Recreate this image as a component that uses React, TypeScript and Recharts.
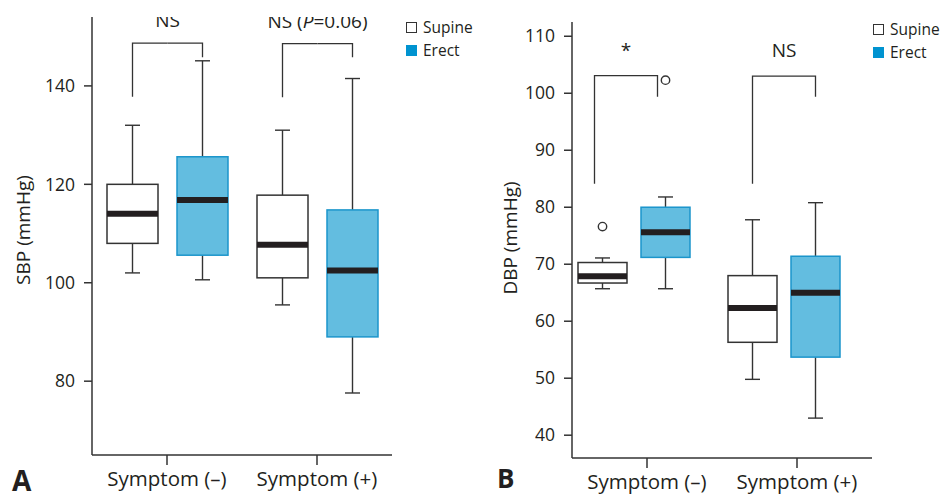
import React from 'react';
import { ComposedChart, Bar, XAxis, YAxis, Legend } from 'recharts';

// categories
const groups = ['Symptom (–)', 'Symptom (+)'];
const legendNames = ['Supine', 'Erect'];

// panel A: systolic BP (mmHg) – box stats per group
const supineSbpMin = [102, 95.5];
const supineSbpQ1 = [108, 101];
const supineSbpMed = [114, 107.7];
const supineSbpQ3 = [120, 117.8];
const supineSbpMax = [132, 131];
const supineSbpOut = [null, null];

const erectSbpMin = [100.6, 77.6];
const erectSbpQ1 = [105.6, 89];
const erectSbpMed = [116.8, 102.5];
const erectSbpQ3 = [125.6, 114.8];
const erectSbpMax = [145.1, 141.5];
const erectSbpOut = [null, null];

// significance brackets (A)
const sbpBracketTop = [148.7, 148.6];
const sbpBracketSupineEnd = [137.8, 137.7];
const sbpBracketErectEnd = [145.8, 145.8];
const sbpSig = ['NS', 'NS (P=0.06)'];
const sbpTicks = [80, 100, 120, 140];

// panel B: diastolic BP (mmHg)
const supineDbpMin = [65.7, 49.8];
const supineDbpQ1 = [66.7, 56.3];
const supineDbpMed = [67.9, 62.3];
const supineDbpQ3 = [70.3, 68];
const supineDbpMax = [71.1, 77.8];
const supineDbpOut = [76.6, null];

const erectDbpMin = [65.7, 43];
const erectDbpQ1 = [71.2, 53.7];
const erectDbpMed = [75.6, 65];
const erectDbpQ3 = [80, 71.4];
const erectDbpMax = [81.8, 80.8];
const erectDbpOut = [102.3, null];

const dbpBracketTop = [103.1, 103];
const dbpBracketSupineEnd = [84.1, 84.1];
const dbpBracketErectEnd = [99.4, 99.4];
const dbpSig = ['*', 'NS'];
const dbpTicks = [40, 50, 60, 70, 80, 90, 100, 110];

const INK = '#231f20';
const LINE = '#333333';
const ERECT_FILL = '#63bde0';
const ERECT_EDGE = '#1b95cb';
const LEGEND_BLUE = '#0093d0';

const buildRows = (s: number[][], e: number[][], br: number[][], sig: string[]) =>
  groups.map((g, i) => ({
    group: g,
    supMin: s[0][i], supQ1: s[1][i], supMed: s[2][i], supQ3: s[3][i], supMax: s[4][i], supOut: s[5][i],
    ereMin: e[0][i], ereQ1: e[1][i], ereMed: e[2][i], ereQ3: e[3][i], ereMax: e[4][i], ereOut: e[5][i],
    brTop: br[0][i], brSup: br[1][i], brEre: br[2][i],
    sig: sig[i],
  }));

const sbpData = buildRows(
  [supineSbpMin, supineSbpQ1, supineSbpMed, supineSbpQ3, supineSbpMax, supineSbpOut],
  [erectSbpMin, erectSbpQ1, erectSbpMed, erectSbpQ3, erectSbpMax, erectSbpOut],
  [sbpBracketTop, sbpBracketSupineEnd, sbpBracketErectEnd],
  sbpSig,
);
const dbpData = buildRows(
  [supineDbpMin, supineDbpQ1, supineDbpMed, supineDbpQ3, supineDbpMax, supineDbpOut],
  [erectDbpMin, erectDbpQ1, erectDbpMed, erectDbpQ3, erectDbpMax, erectDbpOut],
  [dbpBracketTop, dbpBracketSupineEnd, dbpBracketErectEnd],
  dbpSig,
);

// italic "P" inside the significance text
const SigText = ({ x, y, label }: { x: number; y: number; label: string }) => (
  <text x={x} y={y} textAnchor="middle" fontSize={19} fill={INK}>
    {label.split(/(P)(?==)/).map((p, i) => (
      <tspan key={i} fontStyle={p === 'P' ? 'italic' : 'normal'}>{p}</tspan>
    ))}
  </text>
);

// draws a box plot from the range bar [Q1, Q3]; the other stats are mapped with the same px/unit
const boxShape = (pre: 'sup' | 'ere', gap: number, sigLift: number) => (props: any) => {
  const { x, y, width, height, payload } = props;
  if (!payload || payload[pre + 'Q1'] == null) return <g />;
  const q1 = payload[pre + 'Q1'];
  const q3 = payload[pre + 'Q3'];
  const top = Math.min(y, y + height);
  const unit = Math.abs(height) / (q3 - q1);
  const yOf = (v: number) => top + (q3 - v) * unit;
  const cx = x + width / 2;
  const cap = 7.5;
  const isSup = pre === 'sup';
  const yTop = yOf(payload.brTop);
  // bracket moves aside when an erect outlier sits under its leg
  const nudge = payload.ereOut != null && payload.ereOut > payload.brEre ? 8 : 0;
  const leg = cx - nudge;
  return (
    <g>
      {/* whiskers */}
      <line x1={cx} x2={cx} y1={yOf(payload[pre + 'Max'])} y2={yOf(q3)} stroke={LINE} strokeWidth={1.4} />
      <line x1={cx} x2={cx} y1={yOf(q1)} y2={yOf(payload[pre + 'Min'])} stroke={LINE} strokeWidth={1.4} />
      <line x1={cx - cap} x2={cx + cap} y1={yOf(payload[pre + 'Max'])} y2={yOf(payload[pre + 'Max'])} stroke={LINE} strokeWidth={1.4} />
      <line x1={cx - cap} x2={cx + cap} y1={yOf(payload[pre + 'Min'])} y2={yOf(payload[pre + 'Min'])} stroke={LINE} strokeWidth={1.4} />
      <rect x={x} y={top} width={width} height={Math.abs(height)}
        fill={isSup ? '#ffffff' : ERECT_FILL} stroke={isSup ? LINE : ERECT_EDGE} strokeWidth={1.5} />
      <line x1={x} x2={x + width} y1={yOf(payload[pre + 'Med'])} y2={yOf(payload[pre + 'Med'])} stroke={INK} strokeWidth={6} />
      {payload[pre + 'Out'] != null && (
        <circle cx={cx} cy={yOf(payload[pre + 'Out'])} r={4.2} fill="#fff" stroke={LINE} strokeWidth={1.4} />
      )}
      {/* half of the comparison bracket */}
      {isSup ? (
        <polyline points={`${leg},${yOf(payload.brSup)} ${leg},${yTop} ${x + width + gap / 2},${yTop}`}
          fill="none" stroke={LINE} strokeWidth={1.3} />
      ) : (
        <>
          <polyline points={`${x - gap / 2},${yTop} ${leg},${yTop} ${leg},${yOf(payload.brEre)}`}
            fill="none" stroke={LINE} strokeWidth={1.3} />
          <SigText x={x - gap / 2 - nudge} y={yTop - sigLift} label={payload.sig} />
        </>
      )}
    </g>
  );
};

const LegendBox = () => (
  <div style={{ fontSize: 15.5, color: INK, lineHeight: '23px' }}>
    {legendNames.map((n, i) => (
      <div key={n} style={{ display: 'flex', alignItems: 'center' }}>
        <span
          style={{
            display: 'inline-block', width: 11, height: 11, boxSizing: 'border-box', marginRight: 6,
            background: i === 0 ? '#fff' : LEGEND_BLUE, border: i === 0 ? `1.3px solid ${LINE}` : 'none',
          }}
        />
        {n}
      </div>
    ))}
  </div>
);

type PanelProps = {
  data: any[];
  width: number;
  top: number;
  right: number;
  xHeight: number;
  domain: [number, number];
  ticks: number[];
  yLabel: string;
  yLabelDx: number;
  yLabelDy: number;
  barSize: number;
  gap: number;
  sigLift: number;
  legendLeft: number;
  legendTop: number;
  spacer?: number;
};

const BoxPanel = (p: PanelProps) => (
  <ComposedChart
    width={p.width}
    height={498}
    data={p.data}
    barGap={p.gap}
    margin={{ top: p.top, right: p.right, bottom: 0, left: 0 }}
  >
    <XAxis
      dataKey="group"
      height={p.xHeight}
      interval={0}
      stroke={LINE}
      strokeWidth={1.5}
      tickSize={10}
      tickMargin={6}
      tick={{ fill: INK, fontSize: 20.5 }}
    />
    <YAxis
      width={92}
      domain={p.domain}
      ticks={p.ticks}
      allowDataOverflow
      stroke={LINE}
      strokeWidth={1.5}
      tickSize={8}
      tickMargin={9}
      tick={{ fill: INK, fontSize: 17.5 }}
      label={{
        value: p.yLabel, angle: -90, position: 'center',
        dx: p.yLabelDx, dy: p.yLabelDy, fill: INK, fontSize: 19,
      }}
    />
    <Legend
      layout="vertical"
      align="center"
      verticalAlign="middle"
      wrapperStyle={{ left: p.legendLeft, top: p.legendTop, width: 80 }}
      content={() => <LegendBox />}
    />
    <Bar
      name="Supine"
      dataKey={(d: any) => [d.supQ1, d.supQ3]}
      barSize={p.barSize}
      shape={boxShape('sup', p.gap, p.sigLift)}
      isAnimationActive={false}
    />
    <Bar
      name="Erect"
      dataKey={(d: any) => [d.ereQ1, d.ereQ3]}
      barSize={p.barSize}
      shape={boxShape('ere', p.gap, p.sigLift)}
      isAnimationActive={false}
    />
    {/* empty slot: panel B's pairs sit left of the tick marks */}
    {p.spacer ? (
      <Bar dataKey="none" barSize={p.spacer} legendType="none" fill="none" isAnimationActive={false} />
    ) : null}
  </ComposedChart>
);

export default function App() {
  return (
    <div
      style={{
        position: 'absolute', left: 0, top: 0, width: 947, height: 498,
        background: '#fff', fontFamily: "'Open Sans', sans-serif", overflow: 'hidden',
      }}
    >
      <div style={{ position: 'absolute', left: 0, top: 0 }}>
        <BoxPanel
          data={sbpData} width={480} top={17} right={88} xHeight={43}
          domain={[65, 154]} ticks={sbpTicks} yLabel="SBP (mmHg)" yLabelDx={-23} yLabelDy={-6}
          barSize={51} gap={19} sigLift={16} legendLeft={406} legendTop={16}
        />
      </div>
      <div style={{ position: 'absolute', left: 480, top: 0 }}>
        <BoxPanel
          data={dbpData} width={467} top={22} right={75} xHeight={40}
          domain={[36, 112.5]} ticks={dbpTicks} yLabel="DBP (mmHg)" yLabelDx={-16} yLabelDy={-2}
          barSize={49} gap={14} sigLift={19} legendLeft={393} legendTop={18} spacer={12}
        />
      </div>
      <svg width={947} height={498} style={{ position: 'absolute', left: 0, top: 0, pointerEvents: 'none' }}>
        <text x={12} y={491} fontSize={28} fontWeight={700} fill={INK}>A</text>
        <text x={497} y={488} fontSize={26} fontWeight={700} fill={INK}>B</text>
      </svg>
    </div>
  );
}
